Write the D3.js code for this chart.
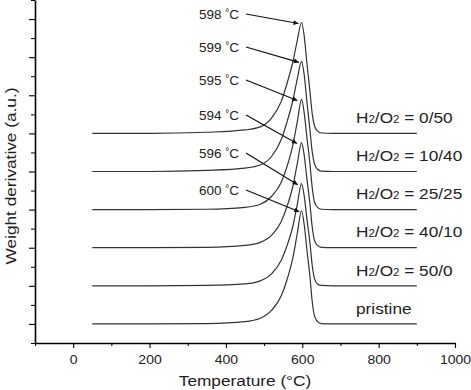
<!DOCTYPE html>
<html>
<head>
<meta charset="utf-8">
<script src="https://d3js.org/d3.v7.min.js"></script>
<style>
  body { margin: 0; background: #fff; }
  svg { display: block; font-family: "Liberation Sans", Arial, sans-serif; }
</style>
</head>
<body>
<div id="chart"></div>
<script>
console.log("chart is loading");

var temps = [50, 200, 350, 450, 490, 520, 545, 560, 575, 587, 598, 605, 612, 620, 626, 632, 640, 650, 680, 900];

// Weight derivative above each curve's own baseline (a.u.)
var dtg_0_50  = [0, 0, 0.03, 0.09, 0.17, 0.41, 0.84, 1.31, 1.86, 2.44, 2.91, 2.56, 1.86, 1.11, 0.52, 0.20, 0.06, 0.01, 0, 0];
var dtg_10_40 = [0, 0, 0.03, 0.09, 0.17, 0.40, 0.84, 1.30, 1.85, 2.43, 2.89, 2.54, 1.85, 1.10, 0.52, 0.20, 0.06, 0.01, 0, 0];
var dtg_25_25 = [0, 0, 0.01, 0.06, 0.14, 0.35, 0.72, 1.13, 1.68, 2.31, 2.89, 2.54, 1.91, 1.21, 0.58, 0.20, 0.06, 0.01, 0, 0];
var dtg_40_10 = [0, 0, 0.01, 0.06, 0.14, 0.33, 0.69, 1.08, 1.60, 2.21, 2.76, 2.43, 1.82, 1.16, 0.55, 0.19, 0.06, 0.01, 0, 0];
var dtg_50_0  = [0, 0, 0.01, 0.05, 0.13, 0.32, 0.67, 1.05, 1.55, 2.14, 2.68, 2.36, 1.77, 1.13, 0.54, 0.19, 0.05, 0.01, 0, 0];
var dtg_pristine = [0, 0, 0.01, 0.06, 0.15, 0.36, 0.74, 1.16, 1.72, 2.38, 2.97, 2.61, 1.96, 1.25, 0.59, 0.21, 0.06, 0.01, 0, 0];

// Top to bottom
var seriesRatios = ["0/50", "10/40", "25/25", "40/10", "50/0", null];
var seriesValues = [dtg_0_50, dtg_10_40, dtg_25_25, dtg_40_10, dtg_50_0, dtg_pristine];
var seriesOffsets = [5, 4, 3, 2, 1, 0];
var peakTemps = [598, 599, 595, 594, 596, 600];

var xMajorTicks = [0, 200, 400, 600, 800, 1000];
var xMinorTicks = [-100, 100, 300, 500, 700, 900];
var yMajorTicks = [0, 1, 2, 3, 4, 5, 6, 7, 8];
var yMinorTicks = [-0.5, 0.5, 1.5, 2.5, 3.5, 4.5, 5.5, 6.5, 7.5, 8.5];

function drawChart() {
    var svgWidth = 471;
    var svgHeight = 390;

    var svg = d3.select("#chart")
        .append("svg")
        .attr("width", svgWidth)
        .attr("height", svgHeight);

    // Scales
    var x = d3.scaleLinear().domain([-100, 1000]).range([35, 455]);
    var y = d3.scaleLinear().domain([-0.5, 8.5]).range([343, 0]);

    // X axis: labelled major ticks + short minor ticks
    var xAxisMinor = svg.append("g")
        .attr("transform", "translate(0,343)")
        .call(d3.axisBottom(x).tickValues(xMinorTicks).tickSize(3).tickSizeOuter(0).tickFormat(""));
    xAxisMinor.select(".domain").remove();

    var xAxis = svg.append("g")
        .attr("transform", "translate(0,343)")
        .call(d3.axisBottom(x).tickValues(xMajorTicks).tickSize(5).tickSizeOuter(0).tickFormat(d3.format("d")));
    xAxis.select(".domain").attr("stroke-width", 1.6);
    xAxis.selectAll(".tick line").attr("stroke-width", 1.1);
    xAxis.selectAll("text")
        .attr("y", 12)
        .attr("font-size", 13)
        .attr("fill", "#222")
        .attr("font-family", "Liberation Sans, Arial, sans-serif")
        .attr("transform", "scale(1.08,1)");

    // Y axis: no labels
    var yAxisMinor = svg.append("g")
        .attr("transform", "translate(35,0)")
        .call(d3.axisLeft(y).tickValues(yMinorTicks).tickSize(4).tickSizeOuter(0).tickFormat(""));
    yAxisMinor.select(".domain").remove();

    var yAxis = svg.append("g")
        .attr("transform", "translate(35,0)")
        .call(d3.axisLeft(y).tickValues(yMajorTicks).tickSize(6).tickSizeOuter(0).tickFormat(""));
    yAxis.select(".domain").attr("stroke-width", 1.6);
    yAxis.selectAll(".tick line").attr("stroke-width", 1.1);

    // Curves
    seriesValues.forEach(function(vals, i) {
        var pts = temps.map(function(t, j) { return { t: t, v: vals[j] }; });
        var line = d3.line()
            .x(d => x(d.t))
            .y(d => y(d.v + seriesOffsets[i]))
            .curve(d3.curveMonotoneX);
        svg.append("path")
            .datum(pts)
            .attr("d", line)
            .attr("fill", "none")
            .attr("stroke", "#333")
            .attr("stroke-width", 1.2);
    });

    // Series labels on the right
    seriesRatios.forEach(function(r, i) {
        var t = svg.append("text")
            .attr("transform", `translate(356,${y(seriesOffsets[i] + 0.27)}) scale(1.15,1)`)
            .attr("font-size", 15)
            .attr("fill", "#222");
        if (r === null) {
            t.text("pristine");
            return;
        }
        t.append("tspan").text("H");
        t.append("tspan").attr("font-size", 10).text("2");
        t.append("tspan").text("/O");
        t.append("tspan").attr("font-size", 10).text("2");
        t.append("tspan").text(" = " + r);
    });

    // Peak annotations with arrows
    svg.append("defs").append("marker")
        .attr("id", "arrow")
        .attr("viewBox", "0 0 10 10")
        .attr("refX", 10)
        .attr("refY", 5)
        .attr("markerUnits", "userSpaceOnUse")
        .attr("markerWidth", 7)
        .attr("markerHeight", 5)
        .attr("orient", "auto")
        .append("path")
        .attr("d", "M0,0L10,5L0,10Z")
        .attr("fill", "#111");

    var labelRowY = [14, 47, 80, 115, 153, 190];

    peakTemps.forEach(function(p, i) {
        var vals = seriesValues[i];
        var peakVal = d3.max(vals) + seriesOffsets[i];
        var rowY = labelRowY[i];

        var t = svg.append("text")
            .attr("x", 199)
            .attr("y", rowY + 5)
            .attr("font-size", 13.5)
            .attr("fill", "#222");
        t.append("tspan").text(p + " ");
        t.append("tspan").attr("font-size", 10).attr("dy", -3).text("°");
        t.append("tspan").attr("dy", 3).text("C");

        svg.append("line")
            .attr("x1", 246)
            .attr("y1", rowY)
            .attr("x2", x(p) - 3)
            .attr("y2", y(peakVal) + 1)
            .attr("stroke", "#111")
            .attr("stroke-width", 1.2)
            .attr("marker-end", "url(#arrow)");
    });

    // Axis titles
    svg.append("text")
        .attr("transform", "translate(245,386) scale(1.15,1)")
        .attr("text-anchor", "middle")
        .attr("font-size", 15)
        .attr("fill", "#222")
        .text("Temperature (°C)");

    svg.append("text")
        .attr("transform", "translate(16,176) rotate(-90) scale(1.15,1)")
        .attr("text-anchor", "middle")
        .attr("font-size", 15)
        .attr("fill", "#222")
        .text("Weight derivative (a.u.)");
}

drawChart();
</script>
</body>
</html>
